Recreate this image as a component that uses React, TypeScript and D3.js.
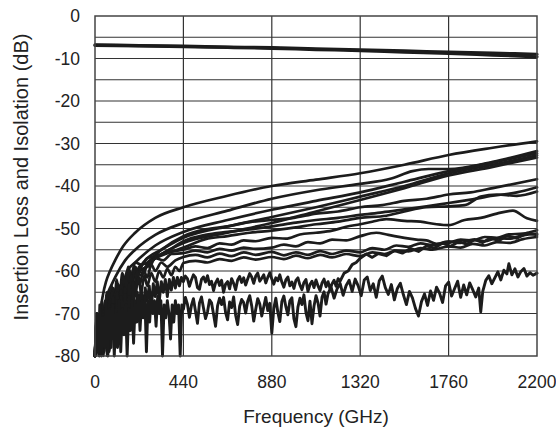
import React from "react";
import * as d3 from "d3";

type Pt = [number, number];

// axis ticks
const freqTicks = [0, 440, 880, 1320, 1760, 2200];
const dbTicks = [0, -10, -20, -30, -40, -50, -60, -70, -80];
const dbGrid = [-5, -10, -15, -20, -25, -30, -35, -40, -45, -50, -55, -60, -65, -70, -75];

// insertion loss (two traces nearly on top of each other)
const insertionLoss1: Pt[] = [[0, -6.8], [220, -6.95], [440, -7.1], [660, -7.3], [880, -7.45], [1100, -7.7], [1320, -7.95], [1540, -8.2], [1760, -8.5], [1980, -8.75], [2200, -9.0]];
const insertionLoss2: Pt[] = [[0, -6.9], [220, -7.05], [440, -7.2], [660, -7.4], [880, -7.6], [1100, -7.9], [1320, -8.15], [1540, -8.5], [1760, -8.8], [1980, -9.2], [2200, -9.6]];

// isolation traces
const isoA: Pt[] = [[0, -80], [8, -76], [16, -72], [24, -74], [32, -68], [40, -65.5], [55, -62.5], [75, -60], [100, -57.5], [140, -54.2], [200, -51], [300, -47.5], [440, -45], [660, -42.3], [880, -40], [1100, -38.5], [1320, -37], [1540, -35], [1760, -32.7], [1980, -31], [2200, -29.5]];
const isoD: Pt[] = [[0, -80], [10, -77], [20, -72], [30, -75], [40, -69], [50, -71], [60, -66], [80, -63.5], [100, -61.5], [150, -57.5], [200, -55], [300, -51.5], [440, -48.7], [660, -45.8], [880, -43], [1100, -41], [1320, -39.5], [1470, -38.3], [1580, -36.5], [1660, -36], [1760, -36], [1980, -34.3], [2200, -31.8]];
const isoB1: Pt[] = [[0, -80], [10, -75], [20, -79], [30, -71], [40, -76], [50, -68], [60, -72], [75, -66], [90, -68], [110, -63], [130, -64], [160, -60], [200, -58], [300, -54], [440, -50.8], [660, -48], [880, -45.6], [1100, -43.5], [1320, -41.5], [1540, -39], [1760, -36.5], [1980, -34.5], [2200, -32.3]];
const isoB2: Pt[] = [[0, -79], [12, -72], [22, -80], [34, -70], [46, -77], [58, -68], [70, -73], [85, -66], [100, -70], [120, -64], [140, -66], [170, -61.5], [210, -60], [260, -57], [330, -55], [440, -52.2], [660, -49.5], [880, -47.3], [1100, -45], [1320, -42.5], [1540, -40], [1760, -37], [1980, -35], [2200, -32.8]];
const isoB3: Pt[] = [[0, -80], [10, -71], [20, -79], [32, -69], [44, -78], [56, -67], [68, -74], [80, -66], [95, -71], [110, -64], [125, -68], [145, -62.5], [170, -64], [200, -60.5], [240, -59.5], [300, -57], [370, -55], [440, -53.4], [660, -51], [880, -48.7], [1100, -46], [1320, -43.3], [1540, -40.5], [1760, -37.5], [1980, -35.5], [2200, -33.3]];
const isoC: Pt[] = [[0, -80], [10, -73], [20, -80], [30, -69], [42, -78], [54, -67], [66, -75], [78, -65], [92, -72], [106, -64], [120, -69], [135, -62.5], [150, -66], [170, -61], [195, -63], [220, -59], [260, -58], [330, -55], [440, -51.8], [550, -50.2], [660, -49.5], [770, -48.5], [880, -48], [990, -47.5], [1100, -46.5], [1210, -46], [1320, -45], [1430, -44.5], [1540, -43.5], [1650, -43], [1760, -42], [1870, -41.5], [1980, -40.5], [2200, -38.4]];
const isoE: Pt[] = [[0, -80], [10, -70], [20, -79], [30, -68], [42, -80], [54, -67], [66, -77], [78, -66], [90, -74], [102, -64], [116, -70], [130, -63], [145, -67], [160, -61.5], [180, -64], [200, -60], [240, -59.5], [300, -57], [370, -55], [440, -53], [550, -51.5], [660, -50.8], [770, -50.2], [880, -49.5], [1000, -48.6], [1100, -48], [1210, -47.5], [1320, -46.8], [1430, -46.2], [1540, -45.5], [1650, -44.8], [1760, -44], [1870, -43.2], [1980, -42.3], [2100, -41.5], [2200, -40.3]];
const isoF: Pt[] = [[0, -79], [10, -71], [22, -80], [34, -68], [46, -79], [58, -66], [70, -75], [82, -65], [95, -72], [108, -64], [122, -70], [136, -62.5], [150, -67], [166, -61], [182, -64], [200, -60], [230, -61], [270, -58], [350, -56], [440, -54.5], [550, -52.5], [660, -51.8], [770, -51], [880, -50.5], [990, -49.8], [1100, -49], [1210, -48.4], [1320, -47.5], [1450, -47], [1540, -46], [1650, -45], [1760, -44.8], [1840, -44.5], [1920, -42.5], [2000, -42], [2100, -42.3], [2200, -41.3]];
const isoG: Pt[] = [[0, -80], [10, -70], [22, -79], [34, -67], [46, -76], [58, -65], [70, -72], [82, -63.5], [95, -69], [108, -62], [122, -66], [136, -60.5], [150, -63], [165, -59], [180, -61], [200, -58], [230, -58.5], [260, -57], [300, -56.5], [370, -55.5], [440, -55], [500, -54.2], [560, -54.6], [620, -53.5], [680, -53.8], [740, -52.8], [800, -53], [880, -52.2], [950, -52.4], [1020, -51.4], [1100, -51], [1180, -50.5], [1250, -49.6], [1320, -49], [1380, -48.4], [1450, -47.8], [1540, -48.2], [1620, -48.4], [1700, -49], [1760, -49.2], [1840, -48], [1920, -47.5], [2000, -46.5], [2080, -45.8], [2150, -47.6], [2200, -48.2]];
const isoH: Pt[] = [[0, -80], [10, -74], [20, -80], [30, -69], [40, -78], [50, -67], [60, -76], [70, -65], [80, -72], [90, -64], [100, -70], [110, -63], [125, -67], [140, -61.5], [155, -64], [170, -60], [185, -62], [200, -59], [220, -60.5], [240, -58], [270, -59], [300, -57], [340, -57.5], [380, -56], [440, -55.8], [500, -55.2], [560, -55.6], [620, -54.8], [680, -55.2], [740, -54.5], [800, -54.8], [880, -54.5], [940, -53.8], [1000, -54.2], [1060, -53.2], [1120, -53.5], [1180, -52.6], [1250, -52.8], [1320, -51.8], [1400, -51], [1460, -51.5], [1540, -52.2], [1600, -52.6], [1650, -52.8], [1700, -53.6], [1760, -53.4], [1820, -52.6], [1880, -52.8], [1940, -52], [2000, -52.2], [2060, -51.4], [2130, -51.2], [2200, -50.4]];
const isoI: Pt[] = [[0, -80], [12, -70], [24, -80], [36, -68], [48, -77], [60, -66], [72, -79], [84, -65], [96, -72], [108, -64], [120, -74], [132, -63], [144, -68], [156, -62], [168, -70], [180, -61], [195, -65], [210, -60], [225, -63], [240, -59.5], [260, -61.5], [280, -58.5], [300, -60], [330, -58], [360, -59], [400, -57.5], [440, -56.7], [500, -56.2], [560, -56.8], [620, -55.9], [680, -56.5], [740, -55.6], [800, -56.2], [880, -55.5], [940, -56.3], [1000, -55.6], [1060, -56.2], [1120, -55.3], [1180, -56], [1250, -55.2], [1320, -55.6], [1380, -54.6], [1440, -55], [1500, -54], [1560, -54.3], [1620, -53.5], [1680, -53.9], [1760, -53], [1820, -53.4], [1880, -52.6], [1940, -53], [2000, -52.3], [2060, -52.4], [2130, -51.6], [2200, -51.2]];
const isoJ: Pt[] = [[0, -80], [10, -71], [20, -79], [30, -69], [40, -76], [50, -67], [60, -80], [70, -67], [80, -74], [90, -66], [100, -78], [110, -65], [120, -72], [130, -64.5], [140, -70], [150, -64], [160, -75], [170, -63], [180, -68], [190, -62.5], [200, -66], [215, -61.5], [230, -65], [245, -61], [260, -63.5], [280, -60.5], [300, -62.5], [320, -60], [340, -61.5], [360, -59.5], [380, -61], [400, -59], [420, -60], [440, -58.1], [500, -57.6], [560, -58], [620, -57.2], [680, -57.6], [740, -56.8], [800, -57.3], [880, -56.7], [940, -57.2], [1000, -56.4], [1060, -57], [1120, -56.2], [1180, -56.8], [1250, -56], [1320, -56.5], [1380, -55.6], [1440, -56], [1500, -55.2], [1560, -55.4], [1620, -54.6], [1680, -55], [1760, -54.2], [1820, -54.5], [1880, -53.6], [1940, -54], [2000, -53.2], [2060, -53.4], [2130, -52.5], [2200, -52]];
// the two noisy traces
const isoN1: Pt[] = [[0, -80], [10, -72], [20, -78], [30, -70], [40, -77], [50, -69], [60, -75], [70, -68], [80, -78], [90, -68], [100, -73], [110, -67], [120, -76], [130, -66], [140, -71], [150, -65.5], [160, -74], [170, -66], [180, -70], [190, -65], [200, -72], [210, -65], [220, -68], [230, -64], [240, -70], [250, -64], [260, -67], [270, -63.5], [280, -69], [290, -63], [300, -66], [310, -62.5], [320, -67], [330, -62.5], [340, -65], [350, -62], [360, -66], [370, -62], [380, -64.5], [390, -61.5], [400, -64], [410, -61.5], [420, -63.5], [430, -61.5], [440, -62.5], [450, -61.2], [460, -61.8], [470, -63.6], [480, -62.1], [490, -60.9], [500, -61.5], [510, -63.9], [520, -64.3], [530, -62], [540, -61.4], [550, -62.6], [560, -61.1], [570, -63.2], [580, -62.4], [590, -64.6], [600, -62.8], [610, -61.9], [620, -63.4], [630, -62.2], [640, -65], [650, -63.1], [660, -62.5], [670, -64.2], [680, -61.8], [690, -62.9], [700, -64.4], [710, -62.1], [720, -61.3], [730, -62.7], [740, -61.6], [750, -63.3], [760, -61.9], [770, -60.6], [780, -61.4], [790, -62.9], [800, -61.2], [810, -60.5], [820, -62.4], [830, -61.7], [840, -60.9], [850, -62.8], [860, -61.5], [870, -60.4], [880, -61.9], [890, -63.1], [900, -61.6], [910, -62.3], [920, -60.9], [930, -62.6], [940, -63.8], [950, -62.1], [960, -61.4], [970, -63.5], [980, -62.6], [990, -64.1], [1000, -62.2], [1010, -61.6], [1020, -63.3], [1030, -64.4], [1040, -62.7], [1050, -62], [1060, -64.8], [1070, -63.2], [1080, -62.4], [1090, -63.9], [1100, -62.1], [1110, -63.5], [1120, -64.6], [1130, -62.8], [1140, -61.9], [1150, -63.7], [1160, -62.5], [1170, -64.2], [1180, -63], [1190, -62.2], [1200, -63.6], [1210, -61.8], [1220, -62.4], [1240, -60.5], [1260, -60], [1280, -58.5], [1300, -58], [1320, -57], [1350, -56], [1380, -56.8], [1410, -55.9], [1450, -56.4], [1490, -55.2], [1530, -55.8], [1570, -54.7], [1610, -55.4], [1650, -54.1], [1690, -54.6], [1730, -53.4], [1770, -54.2], [1810, -53.1], [1850, -53.7], [1890, -52.6], [1930, -53.3], [1970, -52.2], [2010, -52.9], [2050, -51.7], [2100, -52.3], [2150, -51.1], [2200, -51.5]];
const isoN2: Pt[] = [[0, -80], [8, -70], [16, -79], [24, -68], [32, -80], [40, -71], [48, -78], [56, -67], [64, -80], [72, -69], [80, -76], [88, -68], [96, -80], [104, -70], [112, -78], [120, -67], [128, -79], [136, -69], [144, -75], [152, -68], [160, -80], [168, -69], [176, -74], [184, -67], [192, -77], [200, -68], [208, -72], [216, -66], [224, -74], [232, -67], [240, -71], [248, -66], [256, -79], [264, -67], [272, -72], [280, -66], [288, -70], [296, -67], [304, -73], [312, -66], [320, -70], [328, -67], [336, -80], [344, -68], [352, -71], [360, -67], [368, -70], [376, -76], [384, -68], [392, -72], [400, -67], [408, -70], [416, -68], [424, -80], [432, -68], [440, -69], [450, -66.2], [460, -67.8], [470, -70.9], [480, -68.1], [490, -66.5], [500, -69.4], [510, -72.3], [520, -67.5], [530, -66.1], [540, -68.7], [550, -71.2], [560, -69.6], [570, -66.8], [580, -67.5], [590, -70.2], [600, -73], [610, -68.2], [620, -66.4], [630, -67.9], [640, -66.2], [650, -69.8], [660, -71.5], [670, -67.3], [680, -68.6], [690, -66.1], [700, -70.4], [710, -72.6], [720, -68.3], [730, -66.7], [740, -67.4], [750, -69.9], [760, -67.1], [770, -65.8], [780, -68.2], [790, -71.8], [800, -69], [810, -66.5], [820, -67.7], [830, -70.6], [840, -68.4], [850, -66.2], [860, -69.3], [870, -67.6], [880, -74.6], [890, -68.8], [900, -66.4], [910, -69.7], [920, -71.9], [930, -67.2], [940, -65.9], [950, -68.4], [960, -70.3], [970, -67], [980, -66.3], [990, -71.2], [1000, -73.1], [1010, -68.5], [1020, -66.4], [1030, -67.9], [1040, -65.6], [1050, -69.8], [1060, -71.7], [1070, -67.1], [1080, -72.4], [1090, -68.3], [1100, -65.8], [1110, -67.5], [1120, -70.6], [1130, -66.2], [1140, -64.9], [1150, -67.8], [1160, -65.3], [1175, -63.8], [1190, -66.4], [1205, -64.2], [1220, -62.9], [1235, -65.7], [1250, -63.4], [1265, -62.2], [1280, -64.8], [1295, -61.9], [1310, -63.5], [1325, -65.8], [1340, -62.1], [1355, -61.4], [1370, -64.6], [1385, -63], [1400, -66.2], [1415, -62.3], [1430, -61.2], [1445, -63.9], [1460, -65.5], [1475, -63.2], [1490, -66.8], [1505, -64.1], [1520, -62.9], [1535, -65.6], [1550, -67.9], [1565, -64.8], [1580, -66.3], [1595, -68.8], [1610, -70.6], [1625, -67.2], [1640, -65.4], [1655, -68.1], [1670, -64.7], [1685, -66.9], [1700, -63.8], [1715, -65.2], [1730, -67.4], [1745, -63.5], [1760, -62.6], [1775, -65.9], [1790, -64.1], [1805, -62.4], [1820, -66.2], [1835, -63.3], [1850, -65.6], [1865, -62.8], [1880, -64.4], [1895, -66.1], [1910, -64], [1920, -69.6], [1930, -64.8], [1945, -62.2], [1960, -61.1], [1975, -63], [1990, -61.6], [2005, -60.2], [2020, -62.1], [2035, -59.8], [2050, -60.7], [2060, -58.3], [2075, -60.9], [2090, -59.5], [2105, -61.4], [2120, -60.1], [2135, -59.4], [2150, -61.2], [2165, -60.4], [2180, -61], [2200, -60.5]];

const insertionLoss = [insertionLoss1, insertionLoss2];
const isolationSmooth = [isoA, isoD, isoB1, isoB2, isoB3, isoC, isoE, isoF, isoG, isoH, isoI, isoJ];
const isolationNoisy = [isoN1, isoN2];

const W = 556, H = 435;
const margin = { top: 16, right: 19, bottom: 79, left: 95 };
const font = "'Liberation Sans', Arial, Helvetica, sans-serif";

export default function App() {
  const x = d3.scaleLinear().domain([0, 2200]).range([margin.left, W - margin.right]);
  const y = d3.scaleLinear().domain([-80, 0]).range([H - margin.bottom, margin.top]);
  const smooth = d3.line<Pt>().x(d => x(d[0])).y(d => y(d[1])).curve(d3.curveMonotoneX);
  const jagged = d3.line<Pt>().x(d => x(d[0])).y(d => y(d[1]));
  const ink = "#1c1c1c";

  return (
    <svg width={W} height={H} style={{ position: "absolute", left: 0, top: 0, background: "#fff" }} fontFamily={font}>
      <g>
        {dbGrid.map(v => (
          <line key={"h" + v} x1={x(0)} x2={x(2200)} y1={y(v)} y2={y(v)} stroke="#333" strokeWidth={1.2} />
        ))}
        {freqTicks.slice(1, -1).map(v => (
          <line key={"v" + v} x1={x(v)} x2={x(v)} y1={y(0)} y2={y(-80)} stroke="#333" strokeWidth={1.2} />
        ))}
      </g>
      <g fill="none" stroke={ink} strokeLinejoin="round" strokeLinecap="round">
        {isolationSmooth.map((d, i) => (
          <path key={i} d={smooth(d) || ""} strokeWidth={2.7} />
        ))}
        {isolationNoisy.map((d, i) => (
          <path key={"n" + i} d={jagged(d) || ""} strokeWidth={2.9} />
        ))}
        {insertionLoss.map((d, i) => (
          <path key={"il" + i} d={smooth(d) || ""} strokeWidth={3.2} />
        ))}
      </g>
      <rect x={x(0)} y={y(0)} width={x(2200) - x(0)} height={y(-80) - y(0)} fill="none" stroke="#444" strokeWidth={1.5} />
      <g fontSize={17.5} fill="#222">
        {dbTicks.map(v => (
          <text key={v} x={x(0) - 15} y={y(v)} dy="0.35em" textAnchor="end">{v}</text>
        ))}
        {freqTicks.map(v => (
          <text key={v} x={x(v)} y={y(-80) + 26} dy="0.35em" textAnchor="middle">{v}</text>
        ))}
      </g>
      <text x={(x(0) + x(2200)) / 2} y={416} dy="0.35em" textAnchor="middle" fontSize={19} fill="#222">Frequency (GHz)</text>
      <text transform={`translate(21,177) rotate(-90)`} dy="0.35em" textAnchor="middle" fontSize={20} fill="#222">Insertion Loss and Isolation (dB)</text>
    </svg>
  );
}
